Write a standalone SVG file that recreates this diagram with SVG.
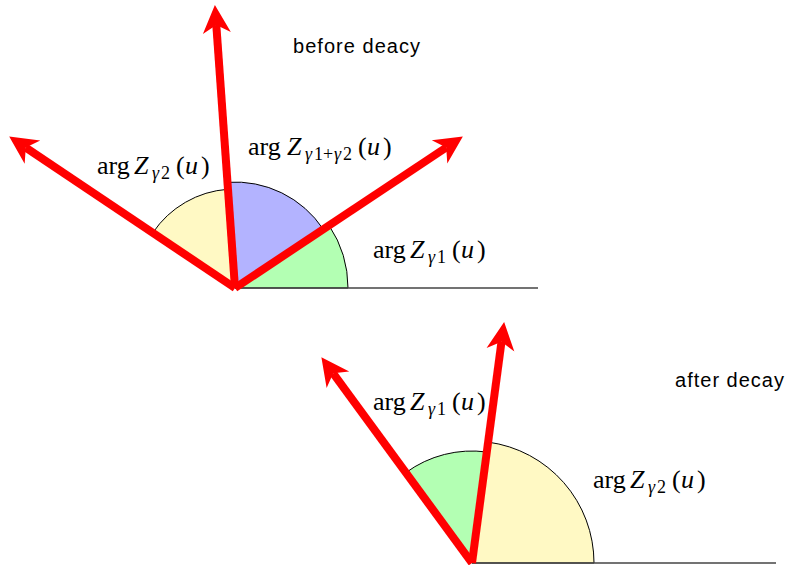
<svg xmlns="http://www.w3.org/2000/svg" width="789" height="565" viewBox="0 0 789 565">
<style>
.sec{stroke:#000;stroke-width:1;}
.base{stroke:#444;stroke-width:1.3;fill:none;}
.arrow{stroke:#ff0000;stroke-width:8;fill:none;marker-end:url(#head);}
.m{font-family:"Liberation Serif","DejaVu Serif",serif;font-size:26px;fill:#000;}
.i{font-style:italic;}
.s{font-size:18px;}
.t{font-family:"Liberation Sans",Arial,sans-serif;font-size:20px;fill:#000;}
</style>
<defs>
<marker id="head" markerUnits="userSpaceOnUse" markerWidth="32" markerHeight="32" viewBox="0 0 32 32" refX="8" refY="16" orient="auto">
<path d="M0,2 L28,16 L0,30 L8,16 Z" fill="#ff0000"/>
</marker>
</defs>
<rect width="789" height="565" fill="#fff"/>

<g id="before">
<g id="sectors-top">
<path class="sec" fill="#b3ffb3" d="M235,288 L348,288 A113,113 0 0 0 329.1,225.5 Z"/>
<path class="sec" fill="#b3b3ff" d="M235,288 L323.3,229.3 A106,106 0 0 0 227.5,182.3 Z"/>
<path class="sec" fill="#fff9c4" d="M235,288 L228,189.25 A99,99 0 0 0 152.8,232.8 Z"/>
</g>
<path class="base" d="M235,288 H538"/>
<g id="connectors-top">
<path class="arrow" d="M235,288 L216.3,25"/>
<path class="arrow" d="M235,288 L446.2,147.5"/>
<path class="arrow" d="M235,288 L25.8,147.6"/>
</g>
<g id="label-g2-top">
<text class="m" y="174"><tspan x="97">arg</tspan><tspan class="i" x="134">Z</tspan><tspan class="i s" x="152" dy="5">γ</tspan><tspan class="s" x="161">2</tspan><tspan x="176" dy="-5">(</tspan><tspan class="i" x="185">u</tspan><tspan x="201">)</tspan></text>
</g>
<g id="label-g12">
<text class="m" y="155"><tspan x="248">arg</tspan><tspan class="i" x="287">Z</tspan><tspan class="i s" x="305" dy="5">γ</tspan><tspan class="s" x="314">1</tspan><tspan class="s" x="323">+</tspan><tspan class="i s" x="334">γ</tspan><tspan class="s" x="343">2</tspan><tspan x="358" dy="-5">(</tspan><tspan class="i" x="367">u</tspan><tspan x="383">)</tspan></text>
</g>
<g id="label-g1-top">
<text class="m" y="258"><tspan x="373">arg</tspan><tspan class="i" x="410">Z</tspan><tspan class="i s" x="428" dy="5">γ</tspan><tspan class="s" x="437">1</tspan><tspan x="452" dy="-5">(</tspan><tspan class="i" x="461">u</tspan><tspan x="477">)</tspan></text>
</g>
<text id="title-before" class="t" x="293" y="53" textLength="127">before deacy</text>
</g>

<g id="after">
<g id="sectors-bottom">
<path class="sec" fill="#fff9c4" d="M472,563 L594,563 A122,122 0 0 0 488.1,442.1 Z"/>
<path class="sec" fill="#b3ffb3" d="M472,563 L486.8,452 A112,112 0 0 0 405.9,472.6 Z"/>
</g>
<path class="base" d="M472,563 H776"/>
<g id="connectors-bottom">
<path class="arrow" d="M472,563 L333.2,373.3"/>
<path class="arrow" d="M472,563 L501.5,341.8"/>
</g>
<g id="label-g1-bottom">
<text class="m" y="410"><tspan x="373">arg</tspan><tspan class="i" x="410">Z</tspan><tspan class="i s" x="428" dy="5">γ</tspan><tspan class="s" x="437">1</tspan><tspan x="452" dy="-5">(</tspan><tspan class="i" x="461">u</tspan><tspan x="477">)</tspan></text>
</g>
<g id="label-g2-bottom">
<text class="m" y="488"><tspan x="593">arg</tspan><tspan class="i" x="630">Z</tspan><tspan class="i s" x="648" dy="5">γ</tspan><tspan class="s" x="657">2</tspan><tspan x="672" dy="-5">(</tspan><tspan class="i" x="681">u</tspan><tspan x="697">)</tspan></text>
</g>
<text id="title-after" class="t" x="675" y="387" textLength="109">after decay</text>
</g>
</svg>
